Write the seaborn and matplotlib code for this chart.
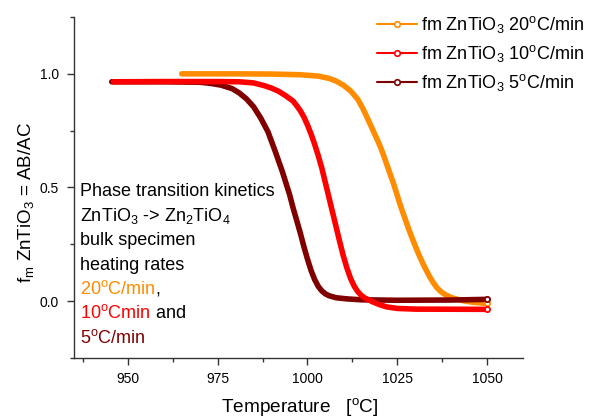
import matplotlib
matplotlib.use('Agg')
import matplotlib.pyplot as plt
import seaborn as sns
import pandas as pd
from matplotlib.lines import Line2D
from matplotlib.ticker import MultipleLocator

# ---- data ----
t_20 = [965, 980, 990, 998, 1003, 1006, 1008, 1010, 1012, 1014, 1015.4, 1016.6, 1017.7,
        1019, 1020, 1021, 1022, 1023, 1024, 1025, 1026, 1027, 1028, 1029, 1030, 1031,
        1032, 1033, 1034, 1035, 1036, 1037, 1038, 1040, 1043, 1046, 1050]
f_20 = [1.0, 1.0, 0.999, 0.996, 0.99, 0.98, 0.968, 0.95, 0.925, 0.888, 0.848, 0.808, 0.77,
        0.725, 0.69, 0.65, 0.605, 0.56, 0.515, 0.465, 0.415, 0.37, 0.325, 0.283, 0.243, 0.205,
        0.17, 0.138, 0.108, 0.082, 0.06, 0.044, 0.032, 0.016, 0.003, -0.005, -0.01]

t_10 = [946, 960, 975, 981, 985, 988, 990, 992, 994, 996, 997, 998, 999, 1000, 1001, 1002,
        1003, 1004, 1005, 1006, 1007, 1008, 1009, 1010, 1011, 1012, 1013, 1014, 1015, 1016,
        1017, 1018, 1020, 1022, 1025, 1030, 1050]
f_10 = [0.965, 0.966, 0.966, 0.965, 0.96, 0.948, 0.937, 0.923, 0.903, 0.88, 0.86, 0.838, 0.81,
        0.775, 0.735, 0.69, 0.64, 0.585, 0.52, 0.455, 0.39, 0.325, 0.26, 0.198, 0.145, 0.10,
        0.066, 0.042, 0.025, 0.014, 0.006, -0.002, -0.015, -0.025, -0.032, -0.035, -0.036]

t_5 = [945.5, 960, 970, 973, 976, 979, 981, 983, 985, 987, 989, 991, 992, 993, 994, 995,
       996, 997, 998, 999, 1000, 1001, 1002, 1003, 1004, 1005, 1006, 1008, 1011, 1015, 1025,
       1040, 1050]
f_5 = [0.965, 0.965, 0.963, 0.958, 0.95, 0.935, 0.916, 0.89, 0.855, 0.805, 0.745, 0.66, 0.615,
       0.57, 0.52, 0.47, 0.41, 0.355, 0.30, 0.24, 0.185, 0.135, 0.095, 0.065, 0.045, 0.032,
       0.024, 0.015, 0.01, 0.006, 0.004, 0.005, 0.008]

c20, c10, c5 = '#FF8C00', '#FF0000', '#800000'
labels = ['fm ZnTiO$_3$ 20$^\\mathrm{o}$C/min',
          'fm ZnTiO$_3$ 10$^\\mathrm{o}$C/min',
          'fm ZnTiO$_3$ 5$^\\mathrm{o}$C/min']

# ---- style ----
sns.set_style('ticks')
plt.rcParams['font.family'] = ['Liberation Sans', 'DejaVu Sans']
plt.rcParams['mathtext.fontset'] = 'custom'
plt.rcParams['mathtext.rm'] = 'Liberation Sans'
plt.rcParams['mathtext.it'] = 'Liberation Sans:italic'
plt.rcParams['mathtext.bf'] = 'Liberation Sans:bold'
plt.rcParams['text.color'] = 'black'
plt.rcParams['axes.labelcolor'] = 'black'
plt.rcParams['xtick.labelcolor'] = 'black'
plt.rcParams['ytick.labelcolor'] = 'black'

W, H = 601, 419
fig = plt.figure(figsize=(W / 100, H / 100), dpi=100)
ax = fig.add_axes([74 / W, 1 - 358 / H, (523 - 74) / W, (358 - 17) / H])

# drawing order: orange, dark red, red (red on top)
for t, f, c in [(t_20, f_20, c20), (t_5, f_5, c5), (t_10, f_10, c10)]:
    df = pd.DataFrame({'T': t, 'f': f})
    sns.lineplot(data=df, x='T', y='f', ax=ax, color=c, lw=4,
                 solid_capstyle='round', solid_joinstyle='round')
    sns.scatterplot(x=[t[-1]], y=[f[-1]], ax=ax, color='white', edgecolor=c,
                    s=14, linewidth=1.3, zorder=5)

ax.set_xlim(935, 1060)
ax.set_ylim(-0.25, 1.25)
ax.set_xticks([950, 975, 1000, 1025, 1050])
ax.set_yticks([0.0, 0.5, 1.0])
ax.set_yticklabels(['0.0', '0.5', '1.0'])
ax.xaxis.set_minor_locator(MultipleLocator(12.5))
ax.yaxis.set_minor_locator(MultipleLocator(0.25))
ax.tick_params(which='major', length=5, width=1, labelsize=10, pad=5,
               color='#333333', labelcolor='black')
ax.tick_params(which='minor', length=3, width=1, color='#333333')
ax.tick_params(axis='y', pad=6)
sns.despine(ax=ax)
for sp in ['left', 'bottom']:
    ax.spines[sp].set_color('#333333')
    ax.spines[sp].set_linewidth(1)

ax.set_xlabel('Temperature   [$^\\mathrm{o}$C]', fontsize=13.7, color='black')
ax.set_ylabel('f$_\\mathrm{m}$ ZnTiO$_3$ = AB/AC', fontsize=13.5, color='black')
ax.xaxis.set_label_coords(0.503, -0.112)
ax.yaxis.set_label_coords(-0.085, 0.455)

handles = [Line2D([], [], color=c, lw=1.5, marker='o', markersize=4,
                  markerfacecolor='white', markeredgecolor=c, markeredgewidth=1.2)
           for c in (c20, c10, c5)]
leg = fig.legend(handles, labels, loc='upper left', bbox_to_anchor=(377 / W, 1 - 14 / H),
                 frameon=False, fontsize=13, handlelength=2.2, handletextpad=0.25,
                 borderpad=0, borderaxespad=0, labelspacing=0.45)
for txt in leg.get_texts():
    txt.set_color('black')

# annotation with mixed colours
renderer = fig.canvas.get_renderer()
note = [
    [('Phase transition kinetics', 'black')],
    [('ZnTiO$_3$ -> Zn$_2$TiO$_4$', 'black')],
    [('bulk specimen', 'black')],
    [('heating rates', 'black')],
    [('20$^\\mathrm{o}$C/min', c20), (',', 'black')],
    [('10$^\\mathrm{o}$Cmin', c10), (' and', 'black')],
    [('5$^\\mathrm{o}$C/min', c5)],
]
y0, dy = 196, 24.5
for i, parts in enumerate(note):
    x = 80
    for s, c in parts:
        txt = fig.text(x / W, 1 - (y0 + i * dy) / H, s, color=c, fontsize=13,
                       ha='left', va='baseline')
        x += txt.get_window_extent(renderer).width

fig.savefig('out.png', dpi=100)
